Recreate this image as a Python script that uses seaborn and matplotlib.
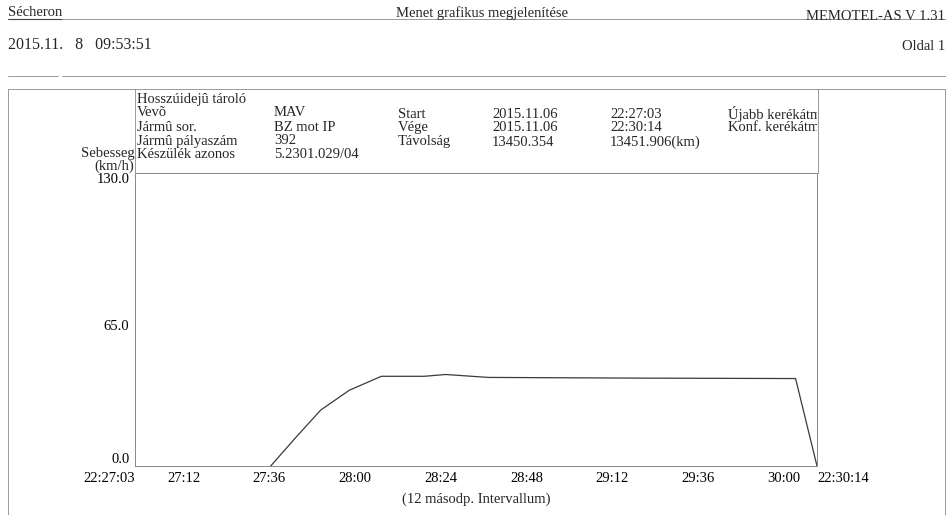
import matplotlib
matplotlib.use("Agg")
import matplotlib.pyplot as plt
from matplotlib.lines import Line2D
import seaborn as sns
import pandas as pd

# ---- data ----
sample_times = ["22:27:41", "22:27:48", "22:27:55", "22:28:03", "22:28:12",
                "22:28:24", "22:28:30", "22:28:42", "22:29:23", "22:30:08", "22:30:14"]
speed_kmh = [0.0, 12.6, 24.8, 33.6, 39.8, 39.8, 40.6, 39.3, 39.0, 38.8, 0.0]

x_tick_times = ["22:27:03", "22:27:12", "22:27:36", "22:28:00", "22:28:24", "22:28:48",
                "22:29:12", "22:29:36", "22:30:00", "22:30:14"]
x_tick_labels = ["22:27:03", "27:12", "27:36", "28:00", "28:24", "28:48",
                 "29:12", "29:36", "30:00", "22:30:14"]
x_minor_times = ["22:27:24", "22:27:48", "22:28:12", "22:28:36", "22:29:00",
                 "22:29:24", "22:29:48", "22:30:12"]
y_ticks = [0.0, 65.0, 130.0]
y_tick_labels = ["0.0", "65.0", "130.0"]
y_minor = [32.5, 97.5]

info_col1 = ["Vevõ", "Jármû sor.", "Jármû pályaszám", "Készülék azonos"]
info_col2 = ["MAV", "BZ mot IP", "392", "5.2301.029/04"]
info_col3 = ["Start", "Vége", "Távolság"]
info_col4 = ["2015.11.06", "2015.11.06", "13450.354"]
info_col5 = ["22:27:03", "22:30:14", "13451.906(km)"]
info_col6 = ["Újabb kerékátm", "Konf. kerékátm"]

t0 = pd.to_datetime(x_tick_times[0], format="%H:%M:%S")
def secs(lst):
    return [(pd.to_datetime(s, format="%H:%M:%S") - t0).total_seconds() for s in lst]

df = pd.DataFrame({"t": secs(sample_times), "v": speed_kmh})

# ---- figure ----
sns.set_style("white")
plt.rcParams["font.family"] = ["Liberation Serif", "DejaVu Serif"]
W, H = 946, 515
fig = plt.figure(figsize=(W / 100, H / 100), dpi=100)

def fx(x):
    return x / W
def fy(y):
    return 1 - y / H

ax = fig.add_axes([fx(135), fy(466), fx(817) - fx(135), fy(173) - fy(466)])
sns.lineplot(data=df, x="t", y="v", ax=ax, color="#3a3a3a", linewidth=0.9)
ax.set_xlim(0, secs([x_tick_times[-1]])[0])
ax.set_ylim(0, 130)

ax.set_xticks(secs(x_tick_times))
ax.set_xticklabels(x_tick_labels)
ax.set_xticks(secs(x_minor_times), minor=True)
ax.set_yticks(y_ticks)
ax.set_yticklabels(y_tick_labels)
ax.set_yticks(y_minor, minor=True)
ax.tick_params(axis="both", which="major", direction="inout", length=6, width=0.6,
               color="#777777", labelsize=10.5, pad=1, labelcolor="black")
ax.tick_params(axis="both", which="minor", direction="inout", length=4, width=0.6,
               color="#777777")
labels = ax.get_xticklabels()
for i, lbl in enumerate(labels):
    lbl.set_ha("right" if i == 0 else "left")
ylabels = ax.get_yticklabels()
ylabels[0].set_va("bottom")
ylabels[1].set_va("top")
ylabels[2].set_va("top")

for s in ax.spines.values():
    s.set_color("#888888")
    s.set_linewidth(0.7)
ax.set_xlabel("(12 másodp. Intervallum)", fontsize=10.5, labelpad=6)
ax.set_ylabel("")

# ---- page furniture ----
def hline(y, x1, x2, c="#999999", lw=0.7):
    fig.add_artist(Line2D([fx(x1), fx(x2)], [fy(y), fy(y)], color=c, lw=lw,
                          transform=fig.transFigure))
def vline(x, y1, y2, c="#999999", lw=0.7):
    fig.add_artist(Line2D([fx(x), fx(x)], [fy(y1), fy(y2)], color=c, lw=lw,
                          transform=fig.transFigure))

fs = 10.5
fig.text(fx(8), fy(13), "Sécheron", fontsize=fs, va="center", ha="left")
fig.text(fx(482), fy(13), "Menet grafikus megjelenítése", fontsize=fs, va="center", ha="center")
fig.text(fx(945), fy(16), "MEMOTEL-AS V 1.31", fontsize=fs, va="center", ha="right")
hline(19, 8, 62, c="#444444", lw=0.8)
hline(19, 62, 946)
fig.text(fx(8), fy(45), "2015.11.   8   09:53:51", fontsize=11.5, va="center", ha="left")
fig.text(fx(945), fy(47), "Oldal 1", fontsize=fs, va="center", ha="right")
hline(76, 8, 58)
hline(76, 62, 946)

# outer frame
hline(89, 8, 945)
vline(8, 89, 515)
vline(945, 89, 515)
# info box / plot side lines
vline(135, 89, 173)
vline(818, 89, 173)

rows_y = [113, 127, 141, 154]
fig.text(fx(137), fy(99), "Hosszúidejû tároló", fontsize=fs, va="center", ha="left")
for i, y in enumerate(rows_y):
    fig.text(fx(137), fy(y), info_col1[i], fontsize=fs, va="center", ha="left")
    fig.text(fx(274), fy(y), info_col2[i], fontsize=fs, va="center", ha="left")
for i, y in enumerate(rows_y[:3]):
    fig.text(fx(398), fy(y + 1), info_col3[i], fontsize=fs, va="center", ha="left")
    fig.text(fx(492), fy(y + 1), info_col4[i], fontsize=fs, va="center", ha="left")
    fig.text(fx(610), fy(y + 1), info_col5[i], fontsize=fs, va="center", ha="left")
for i, y in enumerate(rows_y[:2]):
    t = fig.text(fx(728), fy(y + 1), info_col6[i], fontsize=fs, va="center", ha="left")
    t.set_clip_on(True)
    t.set_clip_box(matplotlib.transforms.Bbox.from_extents(0, 0, 817, H))

fig.text(fx(135), fy(154), "Sebesseg", fontsize=fs, va="center", ha="right")
fig.text(fx(134), fy(166), "(km/h)", fontsize=fs, va="center", ha="right")

fig.savefig("out.png", dpi=100)
